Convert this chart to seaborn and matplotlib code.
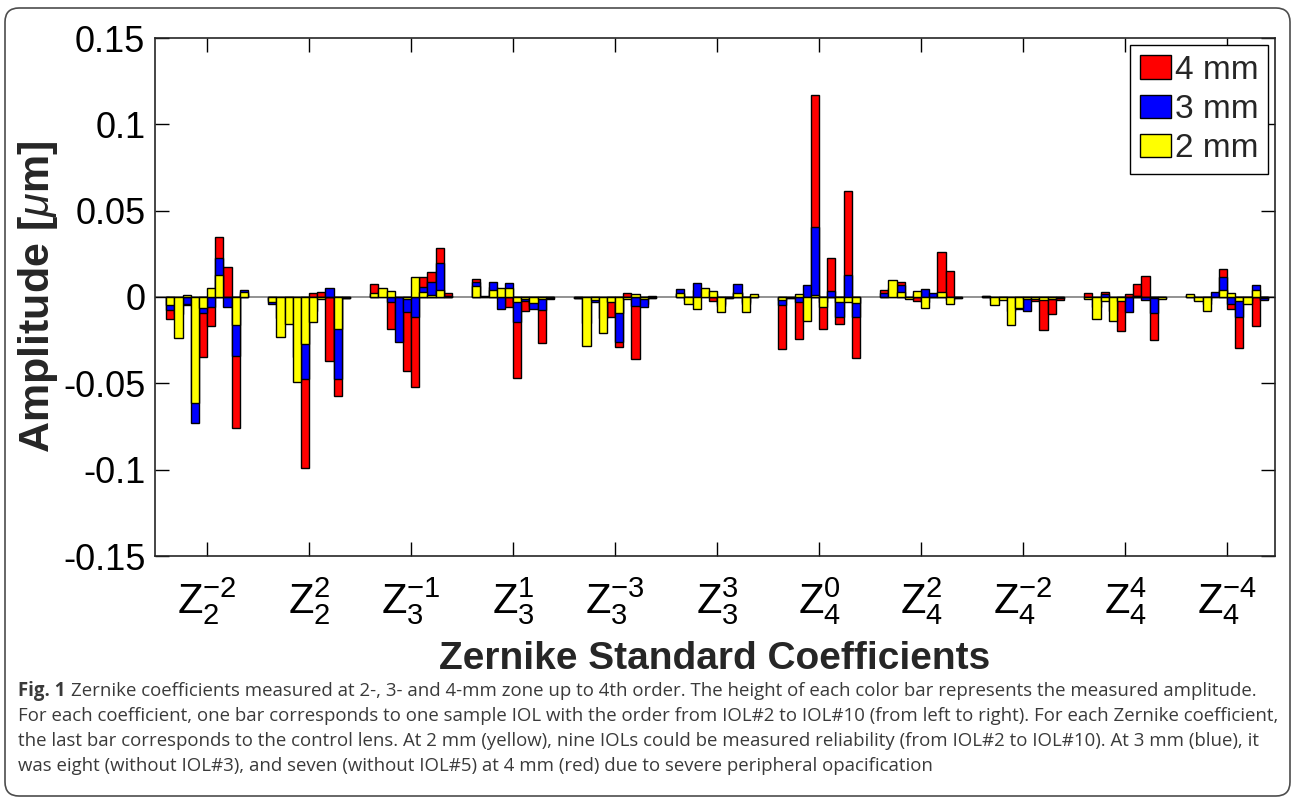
import numpy as np
import pandas as pd
import matplotlib
matplotlib.use("Agg")
import matplotlib.pyplot as plt
import seaborn as sns
from matplotlib.patches import Patch, FancyBboxPatch
from matplotlib.transforms import IdentityTransform

# ---------------- data ----------------
coef_labels = [r"Z_{2}^{-2}", r"Z_{2}^{2}", r"Z_{3}^{-1}", r"Z_{3}^{1}", r"Z_{3}^{-3}",
               r"Z_{3}^{3}", r"Z_{4}^{0}", r"Z_{4}^{2}", r"Z_{4}^{-2}", r"Z_{4}^{4}", r"Z_{4}^{-4}"]
iol_labels = ["IOL#2", "IOL#3", "IOL#4", "IOL#5", "IOL#6", "IOL#7", "IOL#8", "IOL#9", "IOL#10", "Control"]
nan = np.nan

amp_4mm = [
    [-0.0125, -0.0100, -0.0048, nan, -0.0349, -0.0170, 0.0347, 0.0176, -0.0759, 0.0020],
    [-0.0020, -0.0120, -0.0080, nan, -0.0988, 0.0023, 0.0027, -0.0373, -0.0573, -0.0008],
    [0.0077, 0.0030, -0.0187, nan, -0.0430, -0.0521, 0.0114, 0.0143, 0.0284, 0.0025],
    [0.0102, 0.0002, 0.0060, nan, -0.0060, -0.0467, -0.0081, -0.0050, -0.0266, -0.0014],
    [-0.0006, -0.0150, -0.0012, nan, -0.0114, -0.0292, 0.0023, -0.0361, -0.0040, -0.0005],
    [0.0020, -0.0020, 0.0040, nan, -0.0025, -0.0050, -0.0004, 0.0030, -0.0040, 0.0008],
    [-0.0299, -0.0005, -0.0245, nan, 0.1168, -0.0185, 0.0226, -0.0158, 0.0612, -0.0351],
    [0.0039, 0.0050, 0.0085, nan, -0.0025, -0.0030, 0.0015, 0.0261, 0.0149, -0.0004],
    [0.0003, -0.0020, -0.0010, nan, -0.0071, -0.0008, -0.0023, -0.0191, -0.0097, -0.0015],
    [0.0023, -0.0060, 0.0031, nan, -0.0197, 0.0019, 0.0077, 0.0122, -0.0251, -0.0008],
    [0.0010, -0.0015, -0.0040, nan, 0.0162, -0.0068, -0.0293, -0.0020, -0.0170, -0.0010],
]
amp_3mm = [
    [-0.0073, nan, -0.0039, -0.0728, -0.0091, -0.0056, 0.0228, -0.0056, -0.0340, 0.0040],
    [-0.0039, nan, -0.0100, -0.0350, -0.0477, -0.0080, -0.0008, 0.0054, -0.0477, -0.0005],
    [0.0015, nan, -0.0027, -0.0259, -0.0085, -0.0118, 0.0060, 0.0087, 0.0195, 0.0005],
    [0.0087, nan, 0.0085, -0.0068, 0.0079, -0.0147, -0.0021, -0.0071, -0.0077, -0.0003],
    [-0.0004, nan, -0.0027, -0.0120, -0.0020, -0.0263, -0.0006, -0.0054, -0.0060, -0.0003],
    [0.0044, nan, 0.0079, 0.0030, 0.0020, -0.0040, -0.0003, 0.0075, -0.0030, 0.0005],
    [-0.0048, nan, -0.0031, 0.0070, 0.0405, -0.0030, 0.0037, -0.0114, 0.0127, -0.0118],
    [0.0021, nan, 0.0071, -0.0005, 0.0020, 0.0046, 0.0025, 0.0020, -0.0020, -0.0003],
    [0.0005, nan, -0.0012, -0.0080, -0.0030, -0.0079, -0.0008, -0.0010, -0.0010, -0.0005],
    [-0.0005, nan, 0.0019, -0.0080, -0.0015, -0.0089, 0.0003, -0.0017, -0.0095, -0.0006],
    [0.0008, nan, -0.0020, 0.0027, 0.0118, -0.0039, -0.0116, -0.0020, 0.0071, -0.0019],
]
amp_2mm = [
    [-0.0048, -0.0236, 0.0014, -0.0612, -0.0064, 0.0054, 0.0125, 0.0000, -0.0160, 0.0029],
    [-0.0031, -0.0232, -0.0156, -0.0494, -0.0274, -0.0143, -0.0012, 0.0000, -0.0187, -0.0003],
    [0.0025, 0.0054, 0.0033, 0.0000, -0.0012, 0.0114, 0.0029, 0.0012, 0.0039, 0.0003],
    [0.0066, 0.0003, 0.0042, 0.0054, 0.0054, -0.0031, -0.0012, -0.0035, -0.0012, -0.0002],
    [-0.0003, -0.0282, -0.0017, -0.0210, -0.0031, -0.0095, -0.0010, 0.0019, -0.0014, 0.0003],
    [0.0023, -0.0039, -0.0071, 0.0054, 0.0035, -0.0087, -0.0002, 0.0023, -0.0085, 0.0015],
    [-0.0015, -0.0003, 0.0019, -0.0141, 0.0010, -0.0056, 0.0000, -0.0029, -0.0027, -0.0037],
    [0.0000, 0.0097, 0.0029, -0.0010, 0.0033, -0.0062, 0.0000, 0.0031, -0.0041, -0.0002],
    [0.0002, -0.0044, -0.0017, -0.0162, -0.0064, -0.0010, -0.0014, -0.0015, -0.0014, -0.0003],
    [-0.0010, -0.0129, -0.0023, -0.0141, -0.0023, 0.0000, 0.0006, 0.0000, -0.0005, -0.0014],
    [0.0017, -0.0025, -0.0083, 0.0000, 0.0041, 0.0021, -0.0023, -0.0039, 0.0042, -0.0005],
]
series_names = ["4 mm", "3 mm", "2 mm"]
series_colors = ["#ff0000", "#0000ff", "#ffff00"]

yticks = [-0.15, -0.1, -0.05, 0, 0.05, 0.1, 0.15]
ytick_labels = ["-0.15", "-0.1", "-0.05", "0", "0.05", "0.1", "0.15"]

caption_lines = [
    "Zernike coefficients measured at 2-, 3- and 4-mm zone up to 4th order. The height of each color bar represents the measured amplitude.",
    "For each coefficient, one bar corresponds to one sample IOL with the order from IOL#2 to IOL#10 (from left to right). For each Zernike coefficient,",
    "the last bar corresponds to the control lens. At 2 mm (yellow), nine IOLs could be measured reliability (from IOL#2 to IOL#10). At 3 mm (blue), it",
    "was eight (without IOL#3), and seven (without IOL#5) at 4 mm (red) due to severe peripheral opacification",
]

# ---------------- style ----------------
sns.set_style("white")
main_font = ["Liberation Sans", "DejaVu Sans"]
plt.rcParams["font.family"] = main_font
plt.rcParams["mathtext.fontset"] = "custom"
plt.rcParams["mathtext.rm"] = "Liberation Sans"
plt.rcParams["mathtext.it"] = "Liberation Sans:italic"
plt.rcParams["mathtext.bf"] = "Liberation Sans:bold"

W, H = 1295, 799
fig = plt.figure(figsize=(W / 100, H / 100), dpi=100)
ax = fig.add_axes([155 / W, 1 - 556 / H, (1275 - 155) / W, (556 - 38) / H])


def long_frame(rows):
    recs = []
    for ci, c in enumerate(coef_labels):
        for ii, iol in enumerate(iol_labels):
            recs.append({"coef": c, "iol": iol, "amp": rows[ci][ii]})
    return pd.DataFrame(recs)


ax.axhline(0, color="#7f7f7f", lw=1.2, zorder=0.5)
for rows, col in zip([amp_4mm, amp_3mm, amp_2mm], series_colors):
    df = long_frame(rows)
    sns.barplot(data=df, x="coef", y="amp", hue="iol", order=coef_labels,
                hue_order=iol_labels, palette=[col] * len(iol_labels),
                dodge=True, width=0.8, gap=0, errorbar=None, saturation=1,
                edgecolor="black", linewidth=1.0, legend=False, ax=ax)

ax.set_xlim(-0.51, 10.47)
ax.set_ylim(-0.15, 0.15)
ax.set_yticks(yticks)
ax.set_yticklabels(ytick_labels)
ax.set_xticks(range(len(coef_labels)))
ax.set_xticklabels([r"$\mathregular{" + c + "}$" for c in coef_labels])
ax.tick_params(axis="both", direction="in", length=10, width=1, colors="black",
               top=True, right=True, bottom=True, left=True)
ax.tick_params(axis="y", labelsize=26, pad=7)
ax.tick_params(axis="x", labelsize=30, pad=14)
for s in ax.spines.values():
    s.set_visible(True)
    s.set_color("#262626")
    s.set_linewidth(1.2)

ax.set_xlabel("Zernike Standard Coefficients", fontsize=28, fontweight="bold", labelpad=10)
ax.set_ylabel(r"Amplitude [$\mu$m]", fontsize=31, fontweight="bold", labelpad=2)

handles = [Patch(facecolor=c, edgecolor="black", linewidth=1) for c in series_colors]
leg = ax.legend(handles, series_names, loc="upper right", fontsize=24,
                frameon=True, fancybox=False, edgecolor="black", framealpha=1,
                handlelength=0.95, handleheight=0.7, handletextpad=0.1,
                labelspacing=0.25, borderpad=0.3, borderaxespad=0.2)
leg.get_frame().set_linewidth(1.0)

# border
border = FancyBboxPatch((5, 3), 1285, 788, boxstyle="round,pad=0,rounding_size=14",
                        transform=IdentityTransform(), fill=False,
                        edgecolor="#4d4d4d", linewidth=1.2)
fig.patches.append(border)

# caption
cap_font = ["Open Sans", "DejaVu Sans"]
cap_size = 13.4
cap_color = "#3a3a3a"
y0 = 1 - 691 / H
dy = 25 / H
t = fig.text(18 / W, y0, "Fig. 1", fontsize=cap_size, fontweight="bold",
             family=cap_font, color=cap_color, va="center", ha="left")
fig.canvas.draw()
bb = t.get_window_extent(renderer=fig.canvas.get_renderer())
fig.text((bb.x1 + 6) / W, y0, caption_lines[0], fontsize=cap_size, family=cap_font,
         color=cap_color, va="center", ha="left")
for k, line in enumerate(caption_lines[1:], start=1):
    fig.text(18 / W, y0 - k * dy, line, fontsize=cap_size, family=cap_font,
             color=cap_color, va="center", ha="left")

fig.savefig("out.png", dpi=100, facecolor="white")
